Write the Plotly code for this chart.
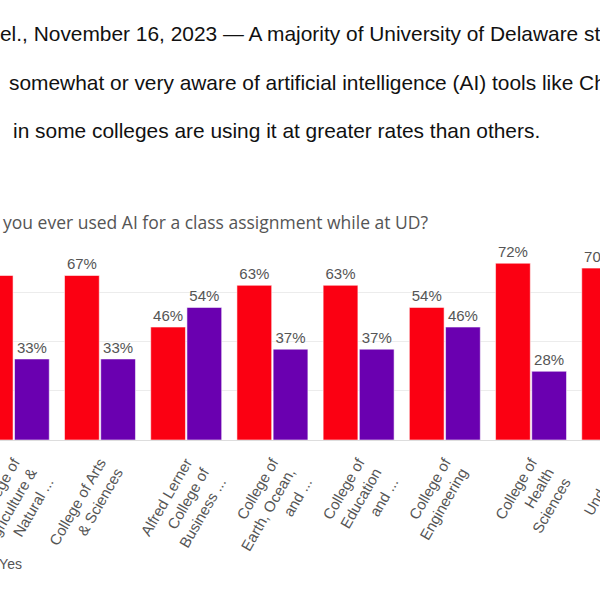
import plotly.graph_objects as go

# ---------------- data ----------------
categories = [
    "College of<br>Agriculture &<br>Natural ...",
    "College of Arts<br>& Sciences",
    "Alfred Lerner<br>College of<br>Business ...",
    "College of<br>Earth, Ocean,<br>and ...",
    "College of<br>Education<br>and ...",
    "College of<br>Engineering",
    "College of<br>Health<br>Sciences",
    "Undeclared",
]
no_values = [67, 67, 46, 63, 63, 54, 72, 70]
yes_values = [33, 33, 54, 37, 37, 46, 28, 30]
series_names = ["No", "Yes"]

body_lines = [
    "el., November 16, 2023 \u2014 A majority of University of Delaware st",
    "somewhat or very aware of artificial intelligence (AI) tools like Ch",
    "in some colleges are using it at greater rates than others.",
]
chart_title = "you ever used AI for a class assignment while at UD?"

# ---------------- style ----------------
W, H = 600, 600
RED = "#fb0012"
PURPLE = "#6a00b0"
GREY = "#555555"
SANS = "Liberation Sans, Arial, sans-serif"
TITLE_FONT = "Open Sans, sans-serif"

x_range = [-0.16, 6.80]
y_range = [0, 79]

def px(x):
    return x / W

def py(y):
    return 1 - y / H

fig = go.Figure()
for name, vals, col in [(series_names[0], no_values, RED), (series_names[1], yes_values, PURPLE)]:
    fig.add_trace(go.Bar(
        x=categories, y=vals, name=name,
        marker=dict(color=col, line=dict(color="rgba(255,255,255,0.55)", width=1)),
        text=[f"{v}%" for v in vals], textposition="outside",
        textfont=dict(family=SANS, size=15, color=GREY),
        cliponaxis=False,
    ))

annotations = []
body_x = [-2, 7, 11]
body_y = [34, 83, 131]
for t, bx, by in zip(body_lines, body_x, body_y):
    annotations.append(dict(
        text=t, xref="paper", yref="paper", x=px(bx), y=py(by),
        xanchor="left", yanchor="middle", showarrow=False,
        font=dict(family=SANS, size=20.9, color="#111111"),
    ))
annotations.append(dict(
    text=chart_title, xref="paper", yref="paper", x=px(1), y=py(222),
    xanchor="left", yanchor="middle", showarrow=False,
    font=dict(family=TITLE_FONT, size=17.5, color=GREY),
))
# last category label lies beyond the visible axis range -> drawn as annotation
last_idx = len(categories) - 1
annotations.append(dict(
    text=categories[last_idx], xref="paper", yref="paper",
    x=(last_idx - x_range[0]) / (x_range[1] - x_range[0]) + px(19), y=py(440),
    xanchor="right", yanchor="top", textangle=-60, showarrow=False,
    font=dict(family=SANS, size=15, color=GREY),
))

fig.update_layout(
    width=W, height=H,
    margin=dict(l=0, r=0, t=0, b=0, autoexpand=False),
    paper_bgcolor="white", plot_bgcolor="white",
    barmode="group", bargap=0.16, bargroupgap=0.04,
    xaxis=dict(
        domain=[0, 1], range=x_range, type="category",
        tickangle=-60, tickfont=dict(family=SANS, size=15, color=GREY),
        showgrid=False, showline=False, ticks="", automargin=False,
        ticklabelstandoff=10,
    ),
    yaxis=dict(
        domain=[1 - 440 / H, 1 - 246 / H], range=y_range, dtick=20,
        showticklabels=False, gridcolor="#ececec", gridwidth=1,
        zeroline=True, zerolinecolor="#dddddd", zerolinewidth=1, automargin=False,
    ),
    showlegend=True,
    legend=dict(
        orientation="h", x=px(-104), y=py(548), xanchor="left", yanchor="top",
        font=dict(family=SANS, size=14, color=GREY), bgcolor="rgba(0,0,0,0)",
    ),
    annotations=annotations,
)

fig.write_html(
    "out.html",
    config={"displayModeBar": False},
    post_script="document.body.style.margin='0';document.body.style.overflow='hidden';",
)
